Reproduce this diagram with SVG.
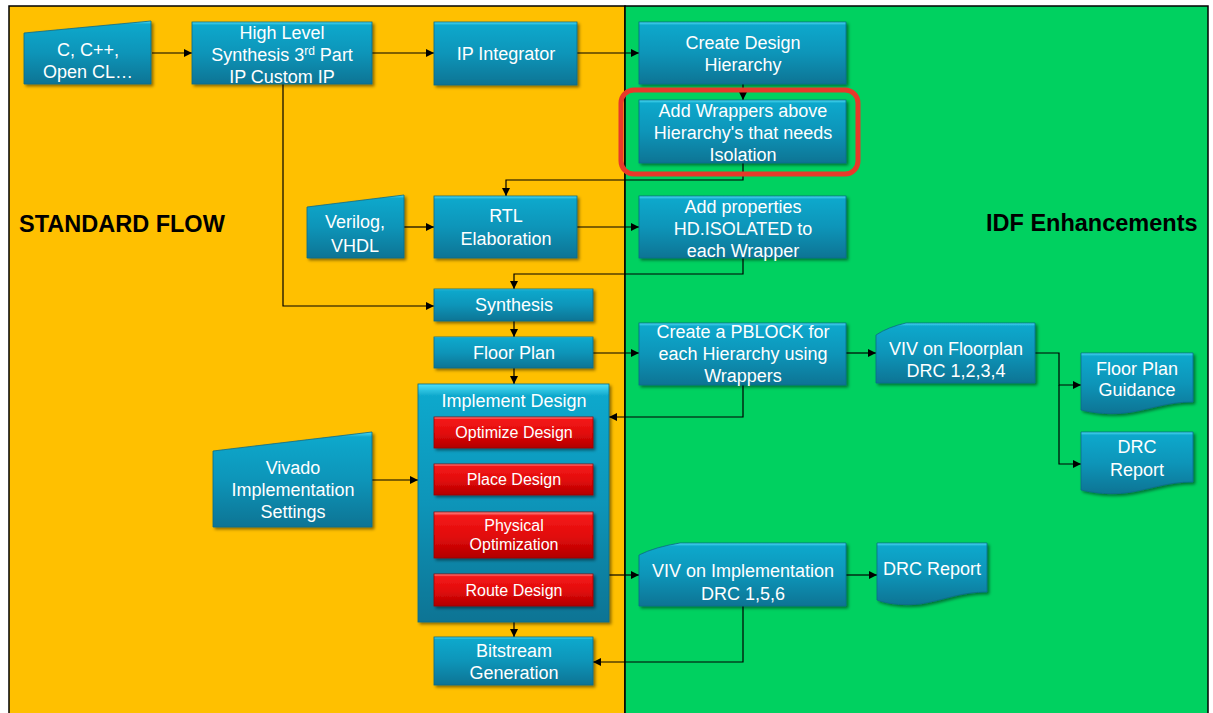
<svg xmlns="http://www.w3.org/2000/svg" width="1213" height="713" viewBox="0 0 1213 713">
<style>
.t{font-family:"Liberation Sans",Arial,sans-serif;font-size:18px;fill:#ffffff;text-anchor:middle}
.tr{font-family:"Liberation Sans",Arial,sans-serif;font-size:16px;fill:#ffffff;text-anchor:middle}
.h{font-family:"Liberation Sans",Arial,sans-serif;font-size:23.5px;font-weight:bold;fill:#000000}
.b{fill:url(#blue);stroke:#0a6a88;stroke-width:0.8;filter:url(#sh)}
.r{fill:url(#red);stroke:#9a0000;stroke-width:0.8;filter:url(#sh)}
.c{fill:none;stroke:#000000;stroke-width:1.2;marker-end:url(#ar)}
</style>
<defs>
<linearGradient id="blue" x1="0" y1="0" x2="0" y2="1">
<stop offset="0" stop-color="#4fe0f7"/>
<stop offset="0.05" stop-color="#0fa8cc"/>
<stop offset="0.5" stop-color="#0a95b9"/>
<stop offset="1" stop-color="#077494"/>
</linearGradient>
<linearGradient id="red" x1="0" y1="0" x2="0" y2="1">
<stop offset="0" stop-color="#ff9a9a"/>
<stop offset="0.08" stop-color="#f41818"/>
<stop offset="0.55" stop-color="#e00a0a"/>
<stop offset="1" stop-color="#b20000"/>
</linearGradient>
<filter id="sh" x="-10%" y="-10%" width="130%" height="140%">
<feDropShadow dx="2" dy="2" stdDeviation="1.5" flood-color="#000000" flood-opacity="0.45"/>
</filter>
<marker id="ar" viewBox="0 0 10 10" refX="10" refY="5" markerWidth="8" markerHeight="8" markerUnits="userSpaceOnUse" orient="auto">
<path d="M0,0 L10,5 L0,10 Z" fill="#000000"/>
</marker>
</defs>
<rect x="0" y="0" width="1213" height="713" fill="#ffffff"/>
<g id="panels">
<rect x="9" y="6" width="616" height="710" fill="#ffc000" stroke="#000000" stroke-width="1.5"/>
<rect x="625" y="6" width="583" height="710" fill="#00d160" stroke="#000000" stroke-width="1.5"/>
<text class="h" x="19" y="232">STANDARD FLOW</text>
<text class="h" x="986" y="231">IDF Enhancements</text>
</g>
<g id="connectors">
<path class="c" d="M152,53 H192"/>
<path class="c" d="M372,53 H434"/>
<path class="c" d="M577,53 H639"/>
<path class="c" d="M743,84 V100"/>
<path class="c" d="M743,163 V180 H506 V196"/>
<path class="c" d="M283,84 V306 H434"/>
<path class="c" d="M404,227 H434"/>
<path class="c" d="M577,227 H639"/>
<path class="c" d="M743,258 V274 H514 V289"/>
<path class="c" d="M514,321 V337"/>
<path class="c" d="M593,353 H639"/>
<path class="c" d="M514,368 V384"/>
<path class="c" d="M846,353 H876"/>
<path class="c" d="M1035,353 H1059 V385 H1081"/>
<path class="c" d="M1059,385 V464 H1081"/>
<path class="c" d="M743,385 V417 H609"/>
<path class="c" d="M372,480 H418"/>
<path class="c" d="M609,575 H639"/>
<path class="c" d="M846,575 H877"/>
<path class="c" d="M743,606 V662 H593"/>
<path class="c" d="M514,622 V637"/>
</g>
<g id="n-c">
<polygon class="b" points="24,33 151,21 151,84 24,84"/>
<text class="t" x="88" y="56">C, C++,</text>
<text class="t" x="88" y="78">Open CL…</text>
</g>
<g id="n-hls">
<rect class="b" x="192" y="22" width="180" height="62"/>
<text class="t" x="282" y="39">High Level</text>
<text class="t" x="282" y="61">Synthesis 3<tspan font-size="12" dy="-6">rd</tspan><tspan dy="6"> Part</tspan></text>
<text class="t" x="282" y="83">IP Custom IP</text>
</g>
<g id="n-ipi">
<rect class="b" x="434" y="22" width="143" height="63"/>
<text class="t" x="506" y="60">IP Integrator</text>
</g>
<g id="n-cdh">
<rect class="b" x="639" y="22" width="207" height="62"/>
<text class="t" x="743" y="49">Create Design</text>
<text class="t" x="743" y="71">Hierarchy</text>
</g>
<g id="n-wrap">
<rect class="b" x="639" y="100" width="207" height="63"/>
<text class="t" x="743" y="117">Add Wrappers above</text>
<text class="t" x="743" y="139">Hierarchy's that needs</text>
<text class="t" x="743" y="161">Isolation</text>
<rect x="621" y="90" width="237" height="84" rx="13" fill="none" stroke="#e8392a" stroke-width="5"/>
</g>
<g id="n-vhdl">
<polygon class="b" points="307,207 404,195 404,258 307,258"/>
<text class="t" x="355" y="228">Verilog,</text>
<text class="t" x="355" y="252">VHDL</text>
</g>
<g id="n-rtl">
<rect class="b" x="434" y="196" width="143" height="62"/>
<text class="t" x="506" y="222">RTL</text>
<text class="t" x="506" y="245">Elaboration</text>
</g>
<g id="n-prop">
<rect class="b" x="639" y="196" width="207" height="62"/>
<text class="t" x="743" y="213">Add properties</text>
<text class="t" x="743" y="235">HD.ISOLATED to</text>
<text class="t" x="743" y="257">each Wrapper</text>
</g>
<g id="n-syn">
<rect class="b" x="434" y="289" width="159" height="32"/>
<text class="t" x="514" y="311">Synthesis</text>
</g>
<g id="n-fp">
<rect class="b" x="434" y="337" width="159" height="31"/>
<text class="t" x="514" y="359">Floor Plan</text>
</g>
<g id="n-pblock">
<rect class="b" x="639" y="323" width="207" height="62"/>
<text class="t" x="743" y="338">Create a PBLOCK for</text>
<text class="t" x="743" y="360">each Hierarchy using</text>
<text class="t" x="743" y="382">Wrappers</text>
</g>
<g id="n-vivfp">
<path class="b" d="M876,335 Q888,327 906,323 H1035 V383 H876 Z"/>
<text class="t" x="956" y="355">VIV on Floorplan</text>
<text class="t" x="956" y="377">DRC 1,2,3,4</text>
</g>
<g id="n-fpg">
<path class="b" d="M1081,353 H1193 V402 C1165,402 1150,410 1125,413 C1105,415 1090,412 1081,410 Z"/>
<text class="t" x="1137" y="375">Floor Plan</text>
<text class="t" x="1137" y="396">Guidance</text>
</g>
<g id="n-drc1">
<path class="b" d="M1081,432 H1193 V482 C1165,482 1150,490 1125,493 C1105,495 1090,492 1081,490 Z"/>
<text class="t" x="1137" y="453">DRC</text>
<text class="t" x="1137" y="476">Report</text>
</g>
<g id="n-impl">
<rect class="b" x="418" y="384" width="191" height="238"/>
<text class="t" x="514" y="407">Implement Design</text>
<rect class="r" x="434" y="417" width="159" height="31"/>
<text class="tr" x="514" y="438">Optimize Design</text>
<rect class="r" x="434" y="464" width="159" height="31"/>
<text class="tr" x="514" y="485">Place Design</text>
<rect class="r" x="434" y="512" width="159" height="46"/>
<text class="tr" x="514" y="531">Physical</text>
<text class="tr" x="514" y="550">Optimization</text>
<rect class="r" x="434" y="574" width="159" height="32"/>
<text class="tr" x="514" y="596">Route Design</text>
</g>
<g id="n-vis">
<polygon class="b" points="213,451 372,432 372,527 213,527"/>
<text class="t" x="293" y="474">Vivado</text>
<text class="t" x="293" y="496">Implementation</text>
<text class="t" x="293" y="518">Settings</text>
</g>
<g id="n-bit">
<rect class="b" x="434" y="637" width="159" height="48"/>
<text class="t" x="514" y="657">Bitstream</text>
<text class="t" x="514" y="679">Generation</text>
</g>
<g id="n-vivimpl">
<path class="b" d="M639,555 Q655,547 680,543 H846 V606 H639 Z"/>
<text class="t" x="743" y="577">VIV on Implementation</text>
<text class="t" x="743" y="600">DRC 1,5,6</text>
</g>
<g id="n-drc2">
<path class="b" d="M877,543 H987 V592 C960,592 945,600 920,604 C900,606 885,603 877,600 Z"/>
<text class="t" x="932" y="575">DRC Report</text>
</g>
</svg>
